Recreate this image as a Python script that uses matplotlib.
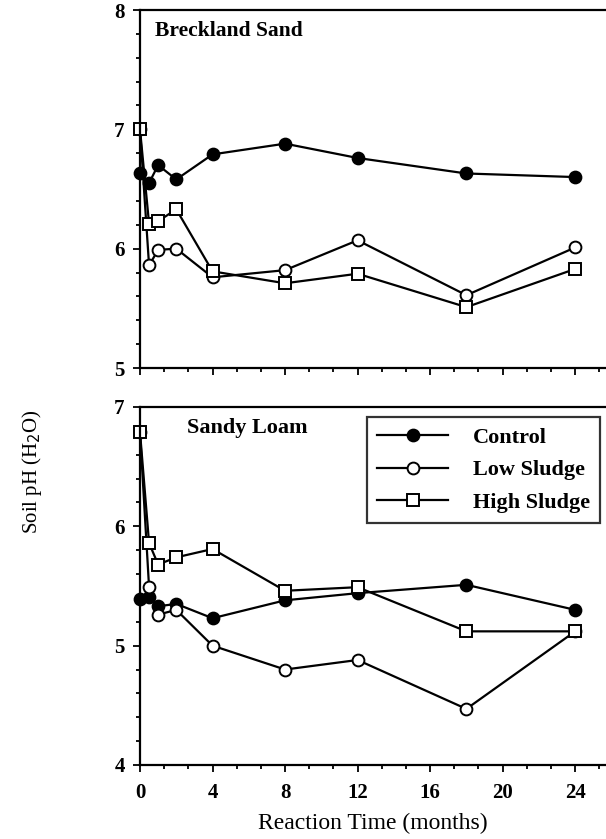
import numpy as np
import matplotlib
matplotlib.use("Agg")
import matplotlib.pyplot as plt
from matplotlib.ticker import MultipleLocator

# Sampling times (months)
months = [0, 0.5, 1, 2, 4, 8, 12, 18, 24]

# Breckland Sand
sand_control = [6.63, 6.55, 6.70, 6.58, 6.79, 6.88, 6.76, 6.63, 6.60]
sand_low = [7.0, 5.86, 5.99, 6.00, 5.76, 5.82, 6.07, 5.61, 6.01]
sand_high = [7.0, 6.21, 6.23, 6.33, 5.81, 5.71, 5.79, 5.51, 5.83]

# Sandy Loam
loam_control = [5.39, 5.41, 5.33, 5.35, 5.23, 5.38, 5.44, 5.51, 5.30]
loam_low = [6.79, 5.49, 5.26, 5.30, 5.00, 4.80, 4.88, 4.47, 5.12]
loam_high = [6.79, 5.86, 5.68, 5.74, 5.81, 5.46, 5.49, 5.12, 5.12]

labels = ["Control", "Low Sludge", "High Sludge"]

plt.rcParams["font.family"] = ["Liberation Serif", "DejaVu Serif"]

fig = plt.figure(figsize=(6.06, 8.39), dpi=100)
ax_top = fig.add_axes([140 / 606, 1 - 368 / 839, 466 / 606, 358 / 839])
ax_bot = fig.add_axes([140 / 606, 1 - 765 / 839, 466 / 606, 358 / 839])

styles = [
    dict(marker="o", markerfacecolor="black", markersize=8.5),
    dict(marker="o", markerfacecolor="white", markersize=8.5),
    dict(marker="s", markerfacecolor="white", markersize=8),
]


def draw_panel(ax, series, ylim, title, title_x, title_size):
    for vals, st, lab in zip(series, styles, labels):
        ax.plot(months, vals, color="black", linewidth=1.6,
                markeredgecolor="black", markeredgewidth=1.4,
                clip_on=False, label=lab, **st)
    ax.set_xlim(0, 25.7)
    ax.set_ylim(*ylim)
    ax.spines["right"].set_visible(False)
    for s in ["left", "bottom", "top"]:
        ax.spines[s].set_linewidth(1.6)
    ax.xaxis.set_major_locator(MultipleLocator(4))
    ax.xaxis.set_minor_locator(MultipleLocator(4 / 3))
    ax.yaxis.set_major_locator(MultipleLocator(1))
    ax.yaxis.set_minor_locator(MultipleLocator(0.2))
    ax.tick_params(which="both", direction="out", width=1.3, top=False, right=False)
    ax.tick_params(which="major", length=5)
    ax.tick_params(which="minor", length=3)
    ax.tick_params(axis="both", labelsize=15)
    for t in ax.get_yticklabels() + ax.get_xticklabels():
        t.set_fontweight("bold")
    ax.text(title_x, 0.94, title, transform=ax.transAxes, fontsize=title_size,
            fontweight="bold", ha="left", va="center")


draw_panel(ax_top, [sand_control, sand_low, sand_high], (5, 8), "Breckland Sand", 0.032, 15.5)
draw_panel(ax_bot, [loam_control, loam_low, loam_high], (4, 7), "Sandy Loam", 0.10, 16)

ax_top.tick_params(axis="x", labelbottom=False)
ax_top.tick_params(axis="y", pad=6)
ax_bot.tick_params(axis="y", pad=6)
ax_bot.tick_params(axis="x", pad=8)

leg = ax_bot.legend(loc="upper right", bbox_to_anchor=(600 / 606, 1 - 417 / 839),
                    bbox_transform=fig.transFigure, borderaxespad=0,
                    frameon=True, fancybox=False, edgecolor="black",
                    prop=dict(weight="bold", size=16), handlelength=3.2,
                    handletextpad=1.1, borderpad=0.45, labelspacing=0.55)
leg.get_frame().set_linewidth(1.6)

ax_bot.set_xlabel("Reaction Time (months)", fontsize=17, labelpad=7)
fig.text(32 / 606, 1 - 472 / 839, "Soil pH (H$_2$O)", rotation=90,
         ha="center", va="center", fontsize=15)

fig.savefig("out.png", dpi=100)
